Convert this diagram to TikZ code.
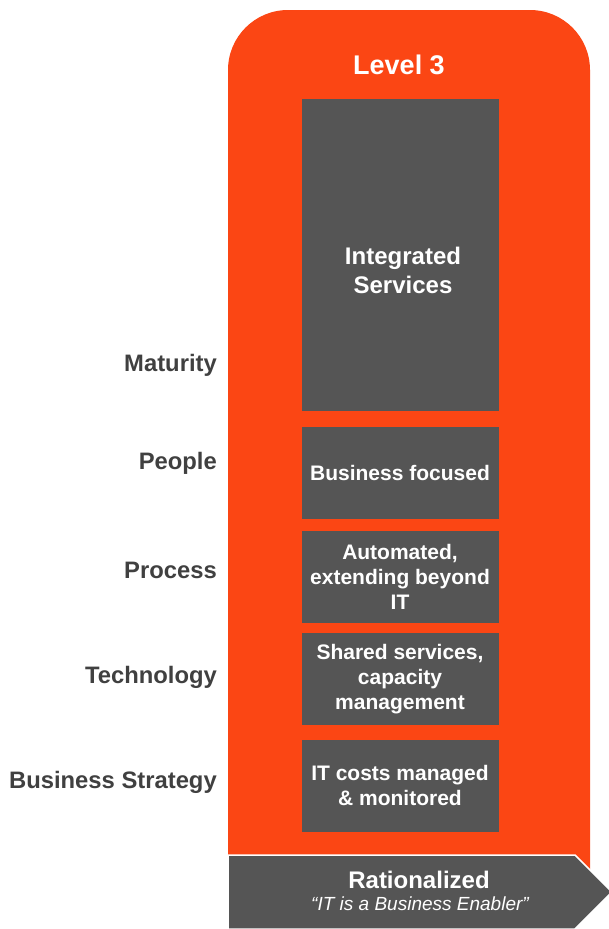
\documentclass[tikz,border=0pt]{standalone}
\usepackage{fontspec}
\setmainfont{Liberation Sans}
\usetikzlibrary{positioning}
\definecolor{levelorange}{RGB}{251,70,20}
\definecolor{boxgray}{RGB}{85,85,85}
\definecolor{labelgray}{RGB}{64,64,64}

\begin{document}
\begin{tikzpicture}[x = 1pt, y = -1pt,
    every node/.style = { align = center, inner sep = 0pt },
    stage/.style = { fill = boxgray, text = white, minimum width = 197pt, minimum height = 92pt,
                     font = \fontsize{21}{25}\selectfont\bfseries },
    dimlabel/.style = { anchor = base east, text = labelgray, font = \fontsize{23.8}{28}\selectfont\bfseries }]
  \useasboundingbox (0,0) rectangle (609,929);

  % level column
  \fill[levelorange, rounded corners = 60pt] (228,885) -- (228,10) -- (590,10) -- (590,885);
  \node [text = white, font = \fontsize{27}{30}\selectfont\bfseries] (level) at (399,65) {Level 3};

  % stages
  \node [stage, minimum height = 312pt, anchor = north] (integ) at (400,99) {};
  \node [text = white, font = \fontsize{24}{29}\selectfont\bfseries] (integtext) at (403,270) {Integrated\\Services};
  \node [stage, below = 15.5pt of integ] (people) {Business focused};
  \node [stage, below = 11pt of people] (process) {Automated,\\extending beyond\\IT};
  \node [stage, below = 10.5pt of process] (tech) {Shared services,\\capacity\\management};
  \node [stage, below = 14pt of tech] (strategy) {IT costs managed\\\& monitored};

  % row labels
  \node [dimlabel] (maturitylabel) at (217,371) {Maturity};
  \node [dimlabel] (peoplelabel) at (217,469) {People};
  \node [dimlabel] (processlabel) at (217,578) {Process};
  \node [dimlabel] (techlabel) at (217,683) {Technology};
  \node [dimlabel] (strategylabel) at (217,788) {Business Strategy};

  % stage arrow
  \filldraw[fill = boxgray, draw = white, line width = 1.5pt] (228,855) -- (575,855) -- (612,892) -- (575,929) -- (228,929) -- cycle;
  \node [text = white, font = \fontsize{24}{28}\selectfont\bfseries] (ratio) at (419,880) {Rationalized};
  \node [text = white, font = \fontsize{19}{22}\selectfont\itshape] (enabler) at (420,904) {“IT is a Business Enabler”};
\end{tikzpicture}
\end{document}
